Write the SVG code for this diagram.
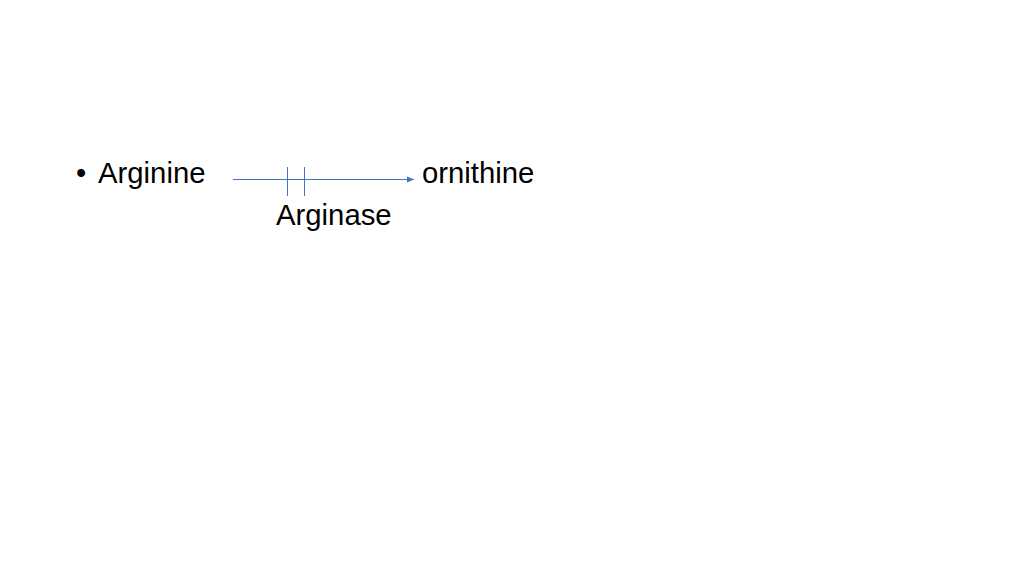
<svg xmlns="http://www.w3.org/2000/svg" width="1024" height="576" viewBox="0 0 1024 576">
<style>
text{font-family:"Liberation Sans",Arial,sans-serif;font-size:29.3px;fill:#000}
.c{stroke:#4472C4;stroke-width:1;fill:none}
</style>
<defs>
<marker id="ah" markerWidth="8" markerHeight="8" refX="7" refY="4" orient="auto" markerUnits="userSpaceOnUse">
<path d="M0,1 L7,4 L0,7 Z" fill="#4472C4"/>
</marker>
</defs>
<rect width="1024" height="576" fill="#fff"/>
<g id="arginine"><text x="76" y="183">•</text><text x="98" y="183">Arginine</text></g>
<g id="ornithine"><text x="422" y="183">ornithine</text></g>
<g id="arginase"><text x="276" y="225">Arginase</text></g>
<g id="connectors">
<line class="c" x1="233" y1="179.5" x2="414" y2="179.5" marker-end="url(#ah)"/>
<line class="c" x1="287.5" y1="167" x2="287.5" y2="196"/>
<line class="c" x1="304.5" y1="167" x2="304.5" y2="196"/>
</g>
</svg>
